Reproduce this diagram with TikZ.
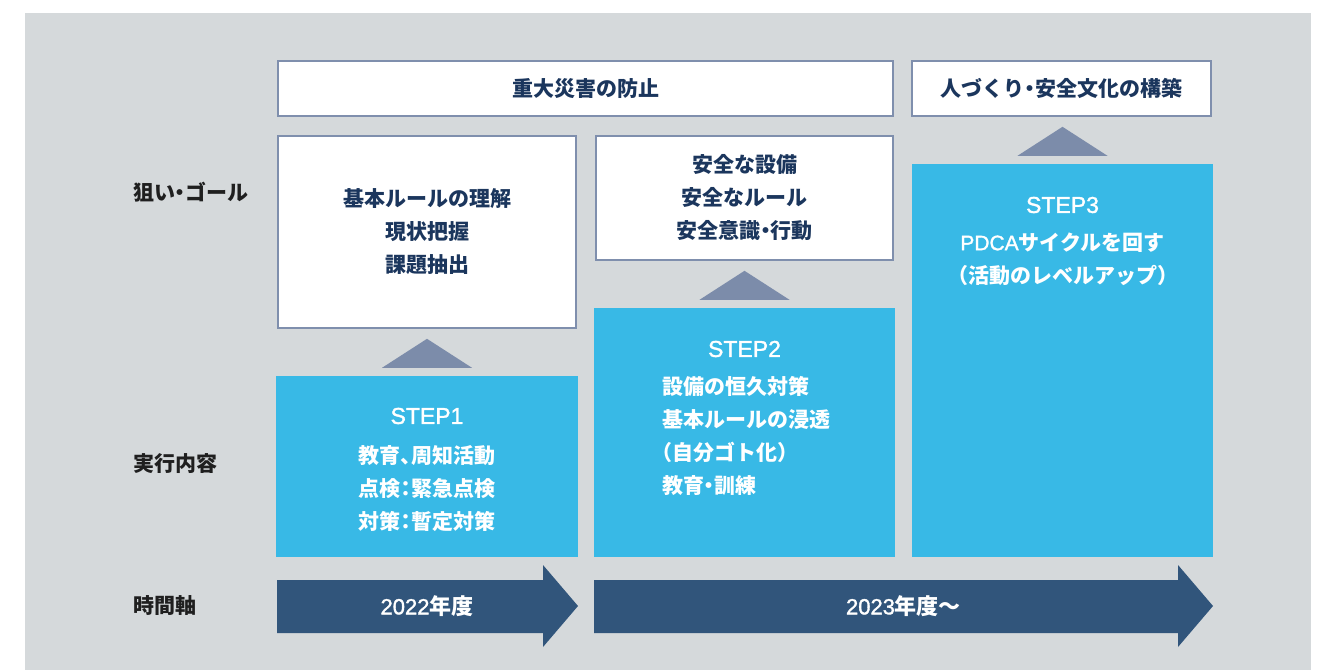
\documentclass[tikz,border=0pt]{standalone}
\usepackage{fontspec}
\newfontfamily\jp{Noto Sans CJK JP}
\newfontfamily\lat[FakeBold=1.4]{Liberation Sans}
\usetikzlibrary{calc,positioning}
\definecolor{bggray}{HTML}{D5D9DB}
\definecolor{framecol}{HTML}{7F8FAD}
\definecolor{tricol}{HTML}{7C8CAA}
\definecolor{stepcyan}{HTML}{38B9E6}
\definecolor{timecol}{HTML}{31557B}
\definecolor{navytext}{HTML}{1B365D}
\def\uptri(#1){\fill[tricol] ($(#1.north)+(-45,-8)$) -- ($(#1.north)+(0,-37)$) -- ($(#1.north)+(45,-8)$) -- cycle;}
% narrow punctuation
\def\jdot{\kern-.25em・\kern-.25em}
\def\jcomma{、\kern-.5em}
\def\jcolon{\kern-.25em：\kern-.25em}
\def\jlpar{\kern-.5em（}
\def\jrpar{）\kern-.5em}
\tikzset{
	goalbox/.style={draw=framecol, line width=2pt, fill=white, text=navytext, align=center, inner sep=0pt,
		font=\jp\bfseries\fontsize{21pt}{33pt}\selectfont},
	stepbox/.style={fill=stepcyan, inner sep=0pt},
	steptitle/.style={text=white, inner sep=0pt, font=\lat\fontsize{23pt}{28pt}\selectfont},
	stepbody/.style={text=white, inner sep=0pt, font=\jp\bfseries\fontsize{21pt}{33pt}\selectfont},
	rowlabel/.style={anchor=west, text=black!88, inner sep=0pt, font=\jp\bfseries\fontsize{21pt}{25pt}\selectfont},
	timetext/.style={text=white, inner sep=0pt, font=\jp\bfseries\fontsize{22pt}{26pt}\selectfont}
}

\begin{document}
\begin{tikzpicture}[x=1pt, y=-1pt]
			%%%%% START %%%%%
			
			\useasboundingbox (0,0) rectangle (1322,670);
			\fill[bggray] (24.5,13) rectangle (1311,670);
			
			% row labels
			\node[rowlabel] (lblgoal) at (133,192) {狙い\jdot ゴール};
			\node[rowlabel] (lbldo) at (133,464) {実行内容};
			\node[rowlabel] (lbltime) at (133,605) {時間軸};
			
			% goals
			\node[goalbox, minimum width=615pt, minimum height=55pt] (goalmain) at (585.5,88.5) {重大災害の防止};
			\node[goalbox, minimum width=299pt, minimum height=55pt] (goalculture) at (1061.5,88.5) {人づくり\jdot 安全文化の構築};
			\node[goalbox, minimum width=298pt, minimum height=192pt] (goalone) at (427,232) {基本ルールの理解\\現状把握\\課題抽出};
			\node[goalbox, minimum width=297pt, minimum height=124pt] (goaltwo) at (744.5,198) {安全な設備\\安全なルール\\安全意識\jdot 行動};
			
			% steps
			\node[stepbox, minimum width=302pt, minimum height=181pt] (stepone) at (427,466.5) {};
			\node[steptitle] (onetitle) at (427,416) {STEP1};
			\node[stepbody, align=left] (onebody) at (427,488.5) {教育\jcomma 周知活動\\点検\jcolon 緊急点検\\対策\jcolon 暫定対策};
			
			\node[stepbox, minimum width=301pt, minimum height=249pt] (steptwo) at (744.5,432.5) {};
			\node[steptitle] (twotitle) at (744.5,349) {STEP2};
			\node[stepbody, align=left] (twobody) at (746,435.5) {設備の恒久対策\\基本ルールの浸透\\\jlpar 自分ゴト化\jrpar\\教育\jdot 訓練};
			
			\node[stepbox, minimum width=301pt, minimum height=393pt] (stepthree) at (1062.5,360.5) {};
			\node[steptitle] (threetitle) at (1062.5,205) {STEP3};
			\node[stepbody, align=center] (threebody) at (1062.5,259) {{\lat\mdseries PDCA}サイクルを回す\\\jlpar 活動のレベルアップ\jrpar};
			
			\uptri(stepone)
			\uptri(steptwo)
			\uptri(stepthree)
			
			% time axis
			\fill[timecol] (277,580) -- (543,580) -- (543,565) -- (578,606) -- (543,647) -- (543,633) -- (277,633) -- cycle;
			\node[timetext] (yearone) at (427,606) {{\lat\mdseries 2022}年度};
			
			\fill[timecol] (594,580) -- (1178,580) -- (1178,565) -- (1213,606) -- (1178,647) -- (1178,633) -- (594,633) -- cycle;
			\node[timetext] (yeartwo) at (903.5,606) {{\lat\mdseries 2023}年度〜};
			
			%%%%% END %%%%%
\end{tikzpicture}
\end{document}
